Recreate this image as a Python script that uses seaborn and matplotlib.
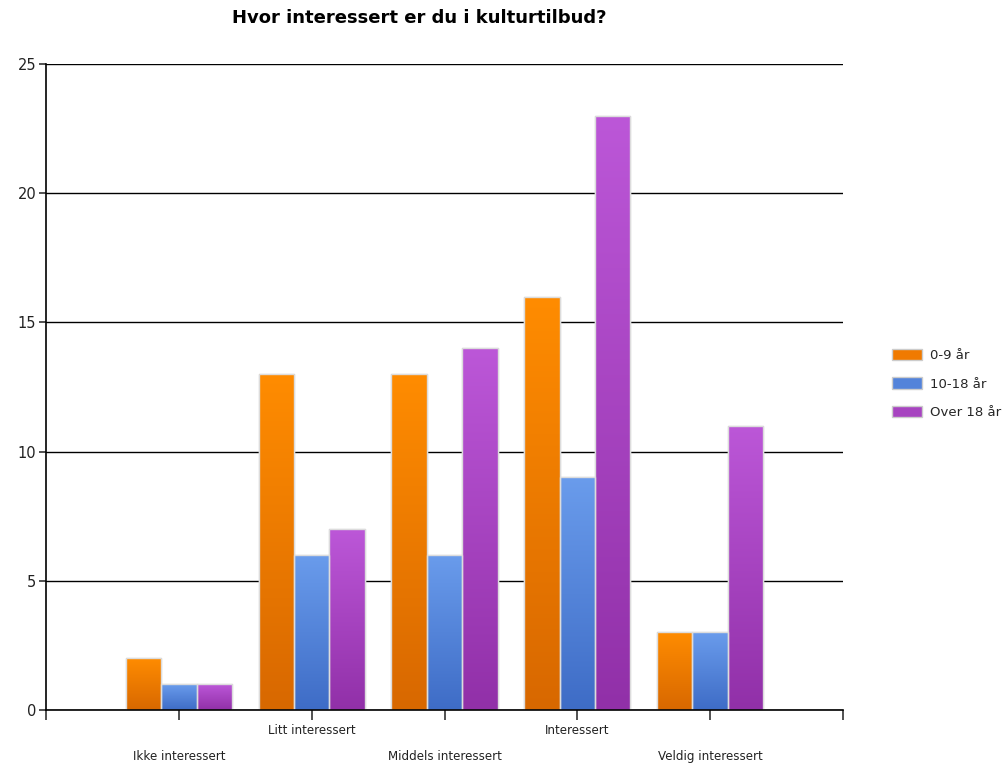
import matplotlib
matplotlib.use("Agg")
import matplotlib.pyplot as plt
import seaborn as sns
import pandas as pd
import numpy as np
from matplotlib.colors import LinearSegmentedColormap
from matplotlib.patches import Patch, Rectangle

categories = ["Ikke interessert", "Litt interessert", "Middels interessert", "Interessert", "Veldig interessert"]
series = ["0-9 år", "10-18 år", "Over 18 år"]
vals_0_9 = [2, 13, 13, 16, 3]
vals_10_18 = [1, 6, 6, 9, 3]
vals_over18 = [1, 7, 14, 23, 11]
title = "Hvor interessert er du i kulturtilbud?"

top_colors = ["#ff8c00", "#6a9cec", "#bc57d8"]
bot_colors = ["#d86800", "#3e6cc6", "#9130a8"]
mid_colors = ["#f07a00", "#5383da", "#a744c0"]

df = pd.DataFrame({
    "cat": categories * 3,
    "series": [s for s in series for _ in categories],
    "value": vals_0_9 + vals_10_18 + vals_over18,
})

sns.set_style("white")
plt.rcParams["font.family"] = ["DejaVu Sans"]

fig = plt.figure(figsize=(10.05, 7.67), dpi=100)
ax = fig.add_axes([46/1005, 57/767, (843-46)/1005, (710-64)/767])

sns.barplot(data=df, x="cat", y="value", hue="series", order=categories,
            hue_order=series, palette=mid_colors, width=0.8, ax=ax,
            legend=False, edgecolor="#dcdcdc", linewidth=1, saturation=1, errorbar=None)

# gradient fill
for i, cont in enumerate(ax.containers):
    cmap = LinearSegmentedColormap.from_list("g%d" % i, [bot_colors[i], top_colors[i]])
    grad = np.linspace(0, 1, 256).reshape(-1, 1)
    for p in cont.patches:
        x0, y0 = p.get_x(), p.get_y()
        w, h = p.get_width(), p.get_height()
        im = ax.imshow(grad, cmap=cmap, origin="lower", aspect="auto",
                       extent=[x0, x0 + w, y0, y0 + h], zorder=p.get_zorder() + 0.1)
        im.set_clip_path(p)
        ax.add_patch(Rectangle((x0, y0), w, h, fill=False,
                     edgecolor="#dcdcdc", linewidth=1, zorder=p.get_zorder() + 0.2))

ax.set_xlim(-1, 5)
ax.set_ylim(0, 25)
ax.set_yticks([0, 5, 10, 15, 20, 25])
ax.set_yticklabels(["0", "5", "10", "15", "20", "25"], fontsize=10.5, color="#222222")
ax.set_xticks([-1, 0, 1, 2, 3, 4, 5])
ax.set_xticklabels([""] + categories + [""], fontsize=8.6, color="#222222")
ax.set_xlabel("")
ax.set_ylabel("")
ax.grid(axis="y", color="black", linewidth=1)
ax.set_axisbelow(True)
for s in ["top", "right"]:
    ax.spines[s].set_visible(False)
for s in ["left", "bottom"]:
    ax.spines[s].set_color("black")
    ax.spines[s].set_linewidth(1.2)
ax.tick_params(axis="x", length=7, width=1.2, color="#333333", direction="out", bottom=True)
ax.tick_params(axis="y", length=5, width=1.2, color="#333333", direction="out", left=True, pad=2)

for k, t in enumerate(ax.xaxis.get_major_ticks()):
    if k in (1, 3, 5):
        t.set_pad(22)
    else:
        t.set_pad(3)

fig.text(419/1005, 1 - 18/767, title, ha="center", va="center", fontsize=13,
         fontweight="bold", color="black")

handles = [Patch(facecolor=mid_colors[i], edgecolor="#cccccc", linewidth=1) for i in range(3)]
fig.legend(handles, series, loc="center left", bbox_to_anchor=(892/1005, 1 - 384/767),
           frameon=False, fontsize=9.5, handlelength=2.3, handleheight=0.95,
           labelspacing=1.15, handletextpad=0.55, borderaxespad=0, borderpad=0)

fig.savefig("out.png", dpi=100)
